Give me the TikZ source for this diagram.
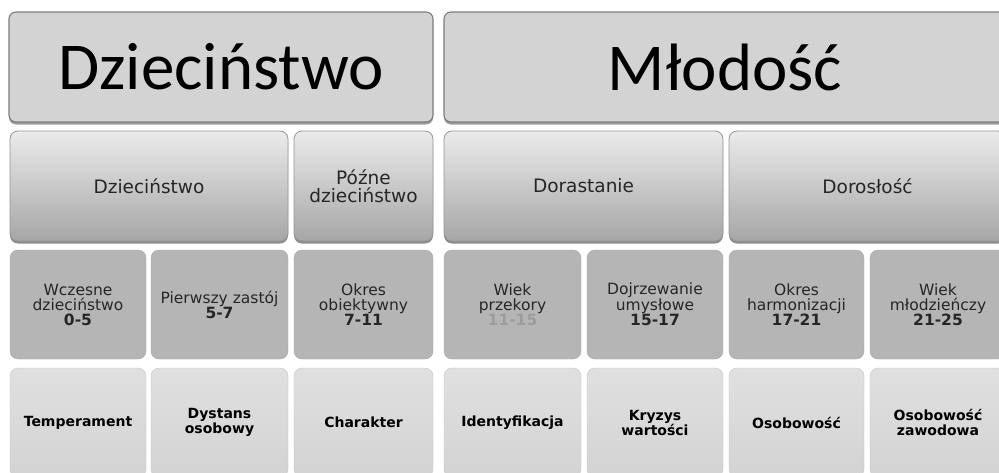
\documentclass[tikz,border=0pt]{standalone}
\usepackage{fontspec}
\setmainfont{DejaVu Sans}
\newfontfamily\bigfont{Carlito}
\usetikzlibrary{shadows}
\definecolor{rowone}{HTML}{D3D3D3}
\definecolor{edgegray}{HTML}{7C7C7C}
\definecolor{rtwotop}{HTML}{EBEBEB}
\definecolor{rtwobot}{HTML}{A6A6A6}
\definecolor{rowthree}{HTML}{B5B5B5}
\definecolor{rfourtop}{HTML}{E0E0E0}
\definecolor{rfourbot}{HTML}{D3D3D3}
\definecolor{txtdark}{HTML}{262626}
\definecolor{numlight}{HTML}{9C9C9C}
\begin{document}
\begin{tikzpicture}[x=1pt,y=-1pt,
  lvlone/.style={draw=edgegray, line width=1.1pt, fill=rowone, rounded corners=7pt,
    inner sep=0pt, minimum height=110pt,
    font=\bigfont\fontsize{67}{67}\selectfont,
    drop shadow={shadow xshift=0pt, shadow yshift=-2.5pt, opacity=0.55, fill=black!70}},
  lvltwo/.style={draw=edgegray!80, line width=0.8pt, top color=rtwotop, bottom color=rtwobot,
    rounded corners=8pt, inner sep=0pt, minimum height=110pt, align=center, text=txtdark,
    font=\fontsize{18.5}{18}\selectfont,
    drop shadow={shadow xshift=0pt, shadow yshift=-2.5pt, opacity=0.6, fill=black!75}},
  lvlthree/.style={fill=rowthree, draw=rowthree!92!black, line width=0.4pt, rounded corners=8pt,
    inner sep=0pt, minimum height=109pt, align=center, text=txtdark,
    font=\fontsize{15.5}{15}\selectfont},
  lvlfour/.style={top color=rfourtop, bottom color=rfourbot, draw=rfourbot!94!black, line width=0.4pt,
    rounded corners=8pt, inner sep=0pt, minimum height=109pt, align=center, text=black,
    font=\bfseries\fontsize{14}{15}\selectfont},
]
\useasboundingbox[fill=white] (0,0) rectangle (999,472);

% row 1
\node[lvlone, minimum width=424pt] (d1) at (221,67) {Dzieciństwo};
\node[lvlone, minimum width=562pt] (m1) at (725,67) {Młodość};

% row 2
\node[lvltwo, minimum width=278pt] (d2) at (149,186) {Dzieciństwo};
\node[lvltwo, minimum width=139pt] (p2) at (363.5,186) {Późne\\dzieciństwo};
\node[lvltwo, minimum width=279pt] (da2) at (583.5,186) {Dorastanie};
\node[lvltwo, minimum width=277pt] (do2) at (867.5,186) {Dorosłość};

% row 3
\node[lvlthree, minimum width=136pt] (w3) at (78,304.5) {Wczesne\\dzieciństwo\\\textbf{0-5}};
\node[lvlthree, minimum width=137pt] (pz3) at (219.5,304.5) {Pierwszy zastój\\\textbf{5-7}};
\node[lvlthree, minimum width=139pt] (oo3) at (363.5,304.5) {Okres\\obiektywny\\\textbf{7-11}};
\node[lvlthree, minimum width=137pt] (wp3) at (512.5,304.5) {Wiek\\przekory\\\textbf{\color{numlight}11-15}};
\node[lvlthree, minimum width=136pt] (du3) at (655,304.5) {Dojrzewanie\\umysłowe\\\textbf{15-17}};
\node[lvlthree, minimum width=135pt] (oh3) at (796.5,304.5) {Okres\\harmonizacji\\\textbf{17-21}};
\node[lvlthree, minimum width=136pt] (wm3) at (938,304.5) {Wiek\\młodzieńczy\\\textbf{21-25}};

% row 4
\node[lvlfour, minimum width=136pt] (t4) at (78,422.5) {Temperament};
\node[lvlfour, minimum width=137pt] (ds4) at (219.5,422.5) {Dystans\\osobowy};
\node[lvlfour, minimum width=139pt] (ch4) at (363.5,422.5) {Charakter};
\node[lvlfour, minimum width=137pt] (id4) at (512.5,422.5) {Identyfikacja};
\node[lvlfour, minimum width=136pt] (kw4) at (655,422.5) {Kryzys\\wartości};
\node[lvlfour, minimum width=135pt] (os4) at (796.5,422.5) {Osobowość};
\node[lvlfour, minimum width=136pt] (oz4) at (938,422.5) {Osobowość\\zawodowa};
\end{tikzpicture}
\end{document}
